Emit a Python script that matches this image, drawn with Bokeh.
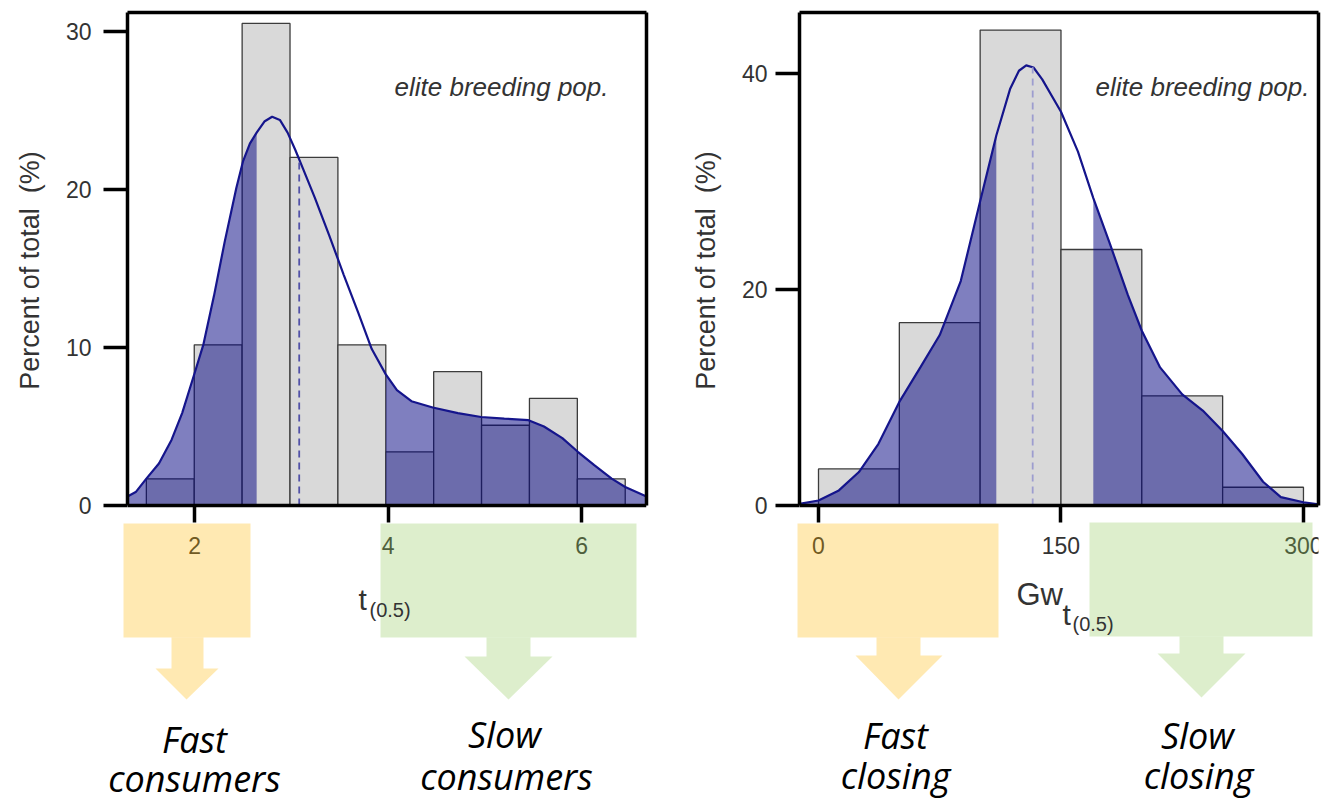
import numpy as np
from bokeh.plotting import figure
from bokeh.layouts import row
from bokeh.models import FixedTicker, Range1d, LinearAxis
from bokeh.core.properties import value
from bokeh.embed import file_html
from bokeh.resources import INLINE

# ---------------- data: left panel, t(0.5) ----------------
t_bin_edges = [1.50, 1.995, 2.49, 2.985, 3.48, 3.975, 4.47, 4.965, 5.46, 5.955, 6.45]
t_percent = [1.69, 10.17, 30.51, 22.03, 10.17, 3.39, 8.47, 5.08, 6.78, 1.69]
t_kde_x = [1.305, 1.39, 1.50, 1.63, 1.76, 1.87, 2.00, 2.09, 2.20, 2.31, 2.43, 2.50, 2.57,
           2.64, 2.72, 2.80, 2.88, 2.96, 3.04, 3.12, 3.24, 3.39, 3.54, 3.69, 3.83, 3.975,
           4.09, 4.24, 4.46, 4.72, 4.96, 5.20, 5.45, 5.61, 5.80, 5.96, 6.13, 6.31, 6.45, 6.67]
t_kde_y = [0.57, 0.85, 1.70, 2.66, 4.15, 5.85, 8.40, 10.2, 13.3, 16.7, 20.1, 21.8, 22.9,
           23.6, 24.3, 24.6, 24.4, 23.6, 22.5, 21.3, 19.5, 17.1, 14.6, 12.2, 9.9, 8.3,
           7.3, 6.6, 6.2, 5.85, 5.6, 5.5, 5.4, 5.0, 4.26, 3.4, 2.55, 1.70, 1.17, 0.57]
t_median = 3.08
t_fast_cut = 2.64
t_slow_cut = 3.975
t_xticks = [2, 4, 6]
t_yticks = [0, 10, 20, 30]

# ---------------- data: right panel, Gw t(0.5) ----------------
gw_bin_edges = [0, 50, 100, 150, 200, 250, 300]
gw_percent = [3.39, 16.95, 44.07, 23.73, 10.17, 1.69]
gw_kde_x = [-11.75, 0, 12.6, 25, 37, 50, 63, 75, 88, 100, 110, 118.5, 124, 128.5, 133,
            138.4, 150, 160.5, 170, 180.4, 191.4, 200, 211.3, 225, 237.7, 250, 262, 275,
            286, 300, 309.3]
gw_kde_y = [0.15, 0.46, 1.4, 3.1, 5.7, 9.6, 12.8, 15.8, 20.8, 28.2, 34.3, 38.6, 40.3, 40.8,
            40.6, 39.5, 36.5, 32.8, 28.5, 24.2, 19.5, 16.2, 12.8, 10.3, 8.8, 6.9, 4.8, 2.2,
            0.77, 0.3, 0.1]
gw_median = 132.5
gw_fast_cut = 110
gw_slow_cut = 170
gw_xticks = [0, 150, 300]
gw_yticks = [0, 20, 40]

# ---------------- texts ----------------
y_title = "Percent of total\u00a0 (%)"
note_text = "elite breeding pop."
left_groups = ["Fast", "Slow"]
left_group_word = ["consumers", "consumers"]
right_groups = ["Fast", "Slow"]
right_group_word = ["closing", "closing"]

YELLOW = "#FFB600"
GREEN = "#8EC655"
NAVY = "#000080"
H = 802
FRAME_TOP, ZERO_Y = 12, 505  # page pixels of chart-box top and of y = 0
BASE_K = 0.42                 # baseline correction of the text glyph (fraction of size)


def panel(width, canvas_left, frame_left, frame_w, xr, ytop, edges, pct, kx, ky, median,
          fast_cut, slow_cut, xticks, yticks, median_color, label_sd, title_cx):
    kx = np.array(kx, dtype=float)
    ky = np.array(ky, dtype=float)
    per_px = ytop / (ZERO_Y - FRAME_TOP)
    ybot = -(H - ZERO_Y) * per_px
    bl = frame_left - canvas_left
    p = figure(width=width, height=H, x_range=Range1d(*xr), y_range=Range1d(ybot, ytop),
               output_backend="svg", toolbar_location=None,
               min_border_left=bl, min_border_right=width - bl - frame_w,
               min_border_top=FRAME_TOP, min_border_bottom=0)
    p.xgrid.visible = False
    p.ygrid.visible = False
    p.outline_line_color = None
    p.background_fill_color = "white"
    p.border_fill_color = "white"

    # histogram
    p.quad(left=edges[:-1], right=edges[1:], bottom=0, top=pct,
           fill_color="#d9d9d9", line_color="#3c3c3c", line_width=1.3)
    # shaded density regions
    m1 = kx <= fast_cut + 1e-9
    m2 = kx >= slow_cut - 1e-9
    for m in (m1, m2):
        p.varea(x=kx[m], y1=np.zeros(m.sum()), y2=ky[m], fill_color=NAVY, fill_alpha=0.5)
    p.line(kx, ky, line_color="#15158c", line_width=2.2)
    p.segment(x0=[median], y0=[0], x1=[median], y1=[float(np.interp(median, kx, ky))],
              line_color=median_color, line_width=1.8, line_dash="7 5")

    # axes
    p.xaxis.fixed_location = 0
    p.yaxis.bounds = (0, ytop)
    for ax, ticks, out, sd in ((p.xaxis, xticks, 17, 14), (p.yaxis, yticks, 24, label_sd)):
        ax.ticker = FixedTicker(ticks=ticks)
        ax.minor_tick_line_color = None
        ax.major_tick_out = out
        ax.major_tick_in = 0
        ax.axis_line_width = 3.5
        ax.axis_line_color = "black"
        ax.major_tick_line_width = 3.5
        ax.major_tick_line_color = "black"
        ax.major_label_text_font = "Liberation Sans"
        ax.major_label_text_font_size = "23px"
        ax.major_label_text_color = "#333333"
        ax.major_label_standoff = sd

    # remaining sides of the chart box
    for side, bounds in (("above", "auto"), ("right", (0, ytop))):
        ax = LinearAxis(ticker=FixedTicker(ticks=[]), bounds=bounds, axis_line_width=3.5,
                        axis_line_color="black", major_tick_line_color=None,
                        minor_tick_line_color=None, major_tick_out=0, minor_tick_out=0,
                        major_label_standoff=0)
        p.add_layout(ax, side)

    fx0, fx1 = frame_left, frame_left + frame_w

    def X(px):
        return xr[0] + (px - fx0) / (fx1 - fx0) * (xr[1] - xr[0])

    def Y(py):
        return (ZERO_Y - py) * per_px

    # y-axis title, centred on the chart box (anchored at the frame edge, shifted in px)
    p.text(x=[X(fx0 + 0.5)], y=[Y(270)], x_offset=title_cx - fx0 - 0.5, text=[y_title],
           angle=np.pi / 2, text_align="center", text_baseline="middle",
           text_font=value("Liberation Sans"), text_font_size="27px",
           text_color="#333333", level="overlay")
    return p, X, Y


def add_box(p, X, Y, x0, x1, y0, y1, color):
    p.quad(left=[X(x0)], right=[X(x1)], top=[Y(y0)], bottom=[Y(y1)],
           fill_color=color, fill_alpha=0.3, line_color=None, level="overlay")


def add_arrow(p, X, Y, sx0, sx1, top, neck, hx0, hx1, tip_x, tip_y, color):
    xs = [sx0, sx1, sx1, hx1, tip_x, hx0, sx0]
    ys = [top, top, neck, neck, tip_y, neck, neck]
    p.patch([X(v) for v in xs], [Y(v) for v in ys], fill_color=color, fill_alpha=0.3,
            line_color=None, level="overlay")


def add_text(p, X, Y, px, py, text, font="Open Sans", size=36, style="italic",
             align="center", color="black"):
    p.text(x=[X(px)], y=[Y(py - BASE_K * size)], text=[text], text_align=align,
           text_baseline="alphabetic", text_font=value(font), text_font_size=f"{size}px",
           text_font_style=style, text_color=color, level="overlay")


# ---------------- left panel ----------------
p1, X1, Y1 = panel(680, 0, 127, 519, (1.305, 6.67), 31.2, t_bin_edges, t_percent,
                   t_kde_x, t_kde_y, t_median, t_fast_cut, t_slow_cut, t_xticks, t_yticks,
                   "#5252a8", 12, 29.5)
add_box(p1, X1, Y1, 123, 250, 523, 637, YELLOW)
add_box(p1, X1, Y1, 380, 636, 523, 637, GREEN)
add_arrow(p1, X1, Y1, 171, 203, 637, 668, 155, 218, 186, 699, YELLOW)
add_arrow(p1, X1, Y1, 486, 530, 637, 656, 464, 552, 508, 699, GREEN)
add_text(p1, X1, Y1, 194, 754, left_groups[0])
add_text(p1, X1, Y1, 194, 793, left_group_word[0])
add_text(p1, X1, Y1, 504, 749, left_groups[1])
add_text(p1, X1, Y1, 506, 791, left_group_word[1])
add_text(p1, X1, Y1, 608, 97, note_text, font="Liberation Sans", size=26,
         align="right", color="#333333")
add_text(p1, X1, Y1, 358, 612, "t", font="Liberation Sans", size=30, style="normal",
         align="left", color="#333333")
add_text(p1, X1, Y1, 369, 618, "(0.5)", font="Liberation Sans", size=20, style="normal",
         align="left", color="#333333")

# ---------------- right panel ----------------
p2, X2, Y2 = panel(646, 680, 799, 519, (-11.75, 309.3), 45.7, gw_bin_edges, gw_percent,
                   gw_kde_x, gw_kde_y, gw_median, gw_fast_cut, gw_slow_cut, gw_xticks,
                   gw_yticks, "#9d9dcf", 8, 705)
add_box(p2, X2, Y2, 797, 998, 523, 637, YELLOW)
add_box(p2, X2, Y2, 1089, 1312, 522, 636, GREEN)
add_arrow(p2, X2, Y2, 876, 920, 637, 655, 855, 942, 898, 699, YELLOW)
add_arrow(p2, X2, Y2, 1179, 1223, 636, 653, 1157, 1245, 1201, 697, GREEN)
add_text(p2, X2, Y2, 895, 750, right_groups[0])
add_text(p2, X2, Y2, 895, 790, right_group_word[0])
add_text(p2, X2, Y2, 1197, 750, right_groups[1])
add_text(p2, X2, Y2, 1198, 790, right_group_word[1])
add_text(p2, X2, Y2, 1309, 97, note_text, font="Liberation Sans", size=26,
         align="right", color="#333333")
add_text(p2, X2, Y2, 1016, 607, "Gw", font="Liberation Sans", size=31, style="normal",
         align="left", color="#333333")
add_text(p2, X2, Y2, 1062, 627, "t", font="Liberation Sans", size=30, style="normal",
         align="left", color="#333333")
add_text(p2, X2, Y2, 1072, 632, "(0.5)", font="Liberation Sans", size=20, style="normal",
         align="left", color="#333333")

layout = row(p1, p2)
open("out.html", "w").write(file_html(layout, INLINE))
